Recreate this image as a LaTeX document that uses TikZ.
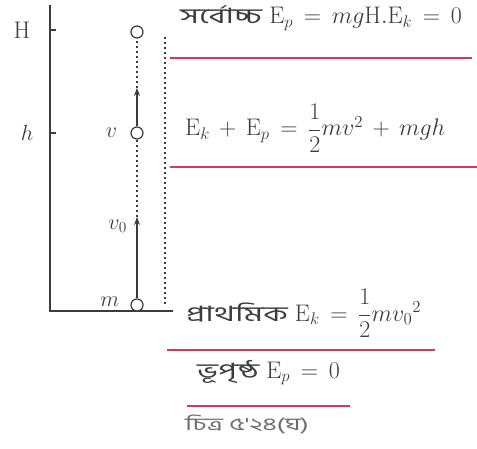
\RequirePackage{fix-cm}
\documentclass[tikz,border=0pt]{standalone}
\usepackage{amsmath}
\usepackage{xcolor}
\usepackage{fontspec}
\newfontfamily\bnfont[Script=Bengali, Scale=0.88, FakeStretch=1.55]{Hind Siliguri}
\usepackage{tikz}
\usetikzlibrary{positioning,arrows.meta}
\definecolor{ink}{RGB}{60,60,60}
\definecolor{pen}{RGB}{205,60,90}
\medmuskip=7mu plus 2mu minus 4mu
\thickmuskip=8mu plus 3mu

\begin{document}
\begin{tikzpicture}[
  x=1pt, y=1pt, font=\fontsize{22}{26}\selectfont, >={Stealth[length=8pt,width=6pt]},
  ball/.style={draw=ink, circle, line width=1.2pt, minimum size=12pt, inner sep=0pt, fill=white},
  lbl/.style={text=ink, inner sep=1pt},
  eqn/.style={text=ink, anchor=base west, inner sep=0pt, font=\fontsize{24}{28}\selectfont},
  uline/.style={draw=pen, line width=1.3pt},
  axis/.style={draw=ink, line width=1.1pt},
  dots/.style={draw=ink, line width=1.4pt, dash pattern=on 1.6pt off 3.4pt}]

\useasboundingbox (0,0) rectangle (477,448);

% height axis and ground
\coordinate (top) at (50,443);
\coordinate (org) at (50,137);
\coordinate (gnd) at (173,137);
\coordinate (tH) at (56,418);
\coordinate (th) at (56,315);
\draw[axis] (top) -- (org) -- (gnd);
\draw[axis] (org |- tH) -- (tH);
\draw[axis] (org |- th) -- (th);
\node[lbl, font=\fontsize{24}{28}\selectfont] (H) at (22,418) {H};
\node[lbl] (h) at (27,315) {$h$};

% body at three heights
\node[ball] (b2) at (137,416) {};
\node[ball] (b1) at (137,315) {};
\node[ball] (b0) at (137,143) {};
\coordinate (a1) at (137,360);
\coordinate (a0) at (137,231);
\draw[axis,->] (b1) -- (a1);
\draw[dots] (a1) -- (b2);
\draw[axis,->] (b0) -- (a0);
\draw[dots] (a0) -- (b1);
\node[lbl, left=12pt of b1] (v) {$v$};
\node[lbl, anchor=east] (v0) at (128,222) {$v_0$};
\node[lbl, left=10pt of b0, yshift=3pt] (m) {$m$};

\coordinate (d1) at (165,411);
\coordinate (d0) at (165,141);
\draw[dots] (d1) -- (d0);

% energies
\node[eqn] (e2) at (180,424) {{\bnfont সর্বোচ্চ} $\mathrm{E}_p = mg\mathrm{H}.\mathrm{E}_k = 0$};
\node[eqn] (e1) at (185,312) {$\mathrm{E}_k + \mathrm{E}_p = \dfrac{1}{2}mv^2 + mgh$};
\node[eqn] (e0) at (186,127) {{\bnfont প্রাথমিক} $\mathrm{E}_k = \dfrac{1}{2}mv_0{}^2$};
\node[eqn] (es) at (197,70) {{\bnfont ভূপৃষ্ঠ} $\mathrm{E}_p = 0$};
\node[eqn, text=ink!75, font=\fontsize{20}{24}\selectfont\bnfont] (cap) at (185,18) {চিত্র ৫'২৪(ঘ)};

% underlines
\draw[uline] (170,390) -- (472,390);
\draw[uline] (170,281) -- (477,281);
\draw[uline] (167,98) -- (435,98);
\draw[uline] (187,42) -- (350,42);
\end{tikzpicture}
\end{document}
